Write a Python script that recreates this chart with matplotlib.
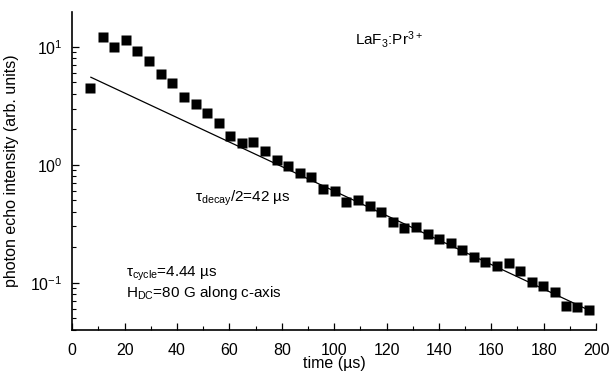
import numpy as np
import matplotlib
matplotlib.use("Agg")
import matplotlib.pyplot as plt
from matplotlib.ticker import MultipleLocator, LogLocator, LogFormatterSciNotation, NullFormatter

plt.rcParams['font.family'] = ['Liberation Sans', 'DejaVu Sans']
plt.rcParams['mathtext.fontset'] = 'custom'
plt.rcParams['mathtext.rm'] = 'Liberation Sans'
plt.rcParams['mathtext.it'] = 'Liberation Sans'
plt.rcParams['mathtext.bf'] = 'Liberation Sans'

# photon echo data (time in us, intensity in arb. units)
t_us = [6.9, 11.8, 16.1, 20.4, 24.9, 29.3, 33.8, 38.2, 42.6, 47.1, 51.5,
        56.0, 60.4, 64.8, 69.2, 73.7, 78.1, 82.4, 86.8, 91.3, 95.8, 100.2,
        104.6, 109.1, 113.5, 117.9, 122.3, 126.8, 131.2, 135.7, 140.0, 144.5,
        149.0, 153.4, 157.7, 162.2, 166.6, 171.0, 175.4, 179.8, 184.2, 188.5,
        192.8, 197.3]
intensity = [4.50, 12.1, 10.0, 11.4, 9.21, 7.58, 5.88, 4.93, 3.75, 3.26, 2.77,
             2.26, 1.75, 1.52, 1.55, 1.31, 1.09, 0.98, 0.849, 0.793, 0.624, 0.598,
             0.487, 0.500, 0.448, 0.398, 0.330, 0.293, 0.296, 0.258, 0.235, 0.218,
             0.191, 0.165, 0.149, 0.139, 0.147, 0.125, 0.1015, 0.0945, 0.0839, 0.064,
             0.0627, 0.0588]

# fitted exponential (straight on log axis), endpoints
fit_t = [7.1, 197.7]
fit_y = [5.52, 0.058]

fig = plt.figure(figsize=(6.12, 3.71), dpi=100)
ax = fig.add_axes([0.1181, 0.1105, 0.8558, 0.857])

ax.plot(fit_t, fit_y, color='black', lw=0.9)
ax.plot(t_us, intensity, 's', color='black', ms=7, mec='none')

ax.set_yscale('log')
ax.set_xlim(0, 200)
ax.set_ylim(0.0398, 19.7)

ax.xaxis.set_major_locator(MultipleLocator(20))
ax.xaxis.set_minor_locator(MultipleLocator(10))
ax.yaxis.set_major_locator(LogLocator(base=10))
ax.yaxis.set_major_formatter(LogFormatterSciNotation())
ax.yaxis.set_minor_locator(LogLocator(base=10, subs=np.arange(2, 10)))
ax.yaxis.set_minor_formatter(NullFormatter())

ax.spines['top'].set_visible(False)
ax.spines['right'].set_visible(False)
ax.spines['left'].set_linewidth(1.2)
ax.spines['bottom'].set_linewidth(1.2)
ax.tick_params(which='major', direction='in', length=5, width=0.9, labelsize=11.5)
ax.tick_params(which='minor', direction='in', length=3, width=0.8)
ax.tick_params(axis='x', which='major', pad=9)
ax.tick_params(axis='y', which='major', pad=7)

ax.set_xlabel('time (µs)', fontsize=11.5, labelpad=-1)
ax.set_ylabel('photon echo intensity (arb. units)', fontsize=11.5, labelpad=8)

ax.text(121, 11.6, r'LaF$_3$:Pr$^{3+}$', fontsize=11, ha='center', va='center')
ax.text(46.7, 0.523, r'τ$_{\mathrm{decay}}$/2=42 µs', fontsize=11, ha='left', va='center')
ax.text(20.4, 0.118, r'τ$_{\mathrm{cycle}}$=4.44 µs', fontsize=11, ha='left', va='center')
ax.text(20.4, 0.0825, r'H$_{\mathrm{DC}}$=80 G along c-axis', fontsize=11, ha='left', va='center')

fig.savefig('out.png', dpi=100)
